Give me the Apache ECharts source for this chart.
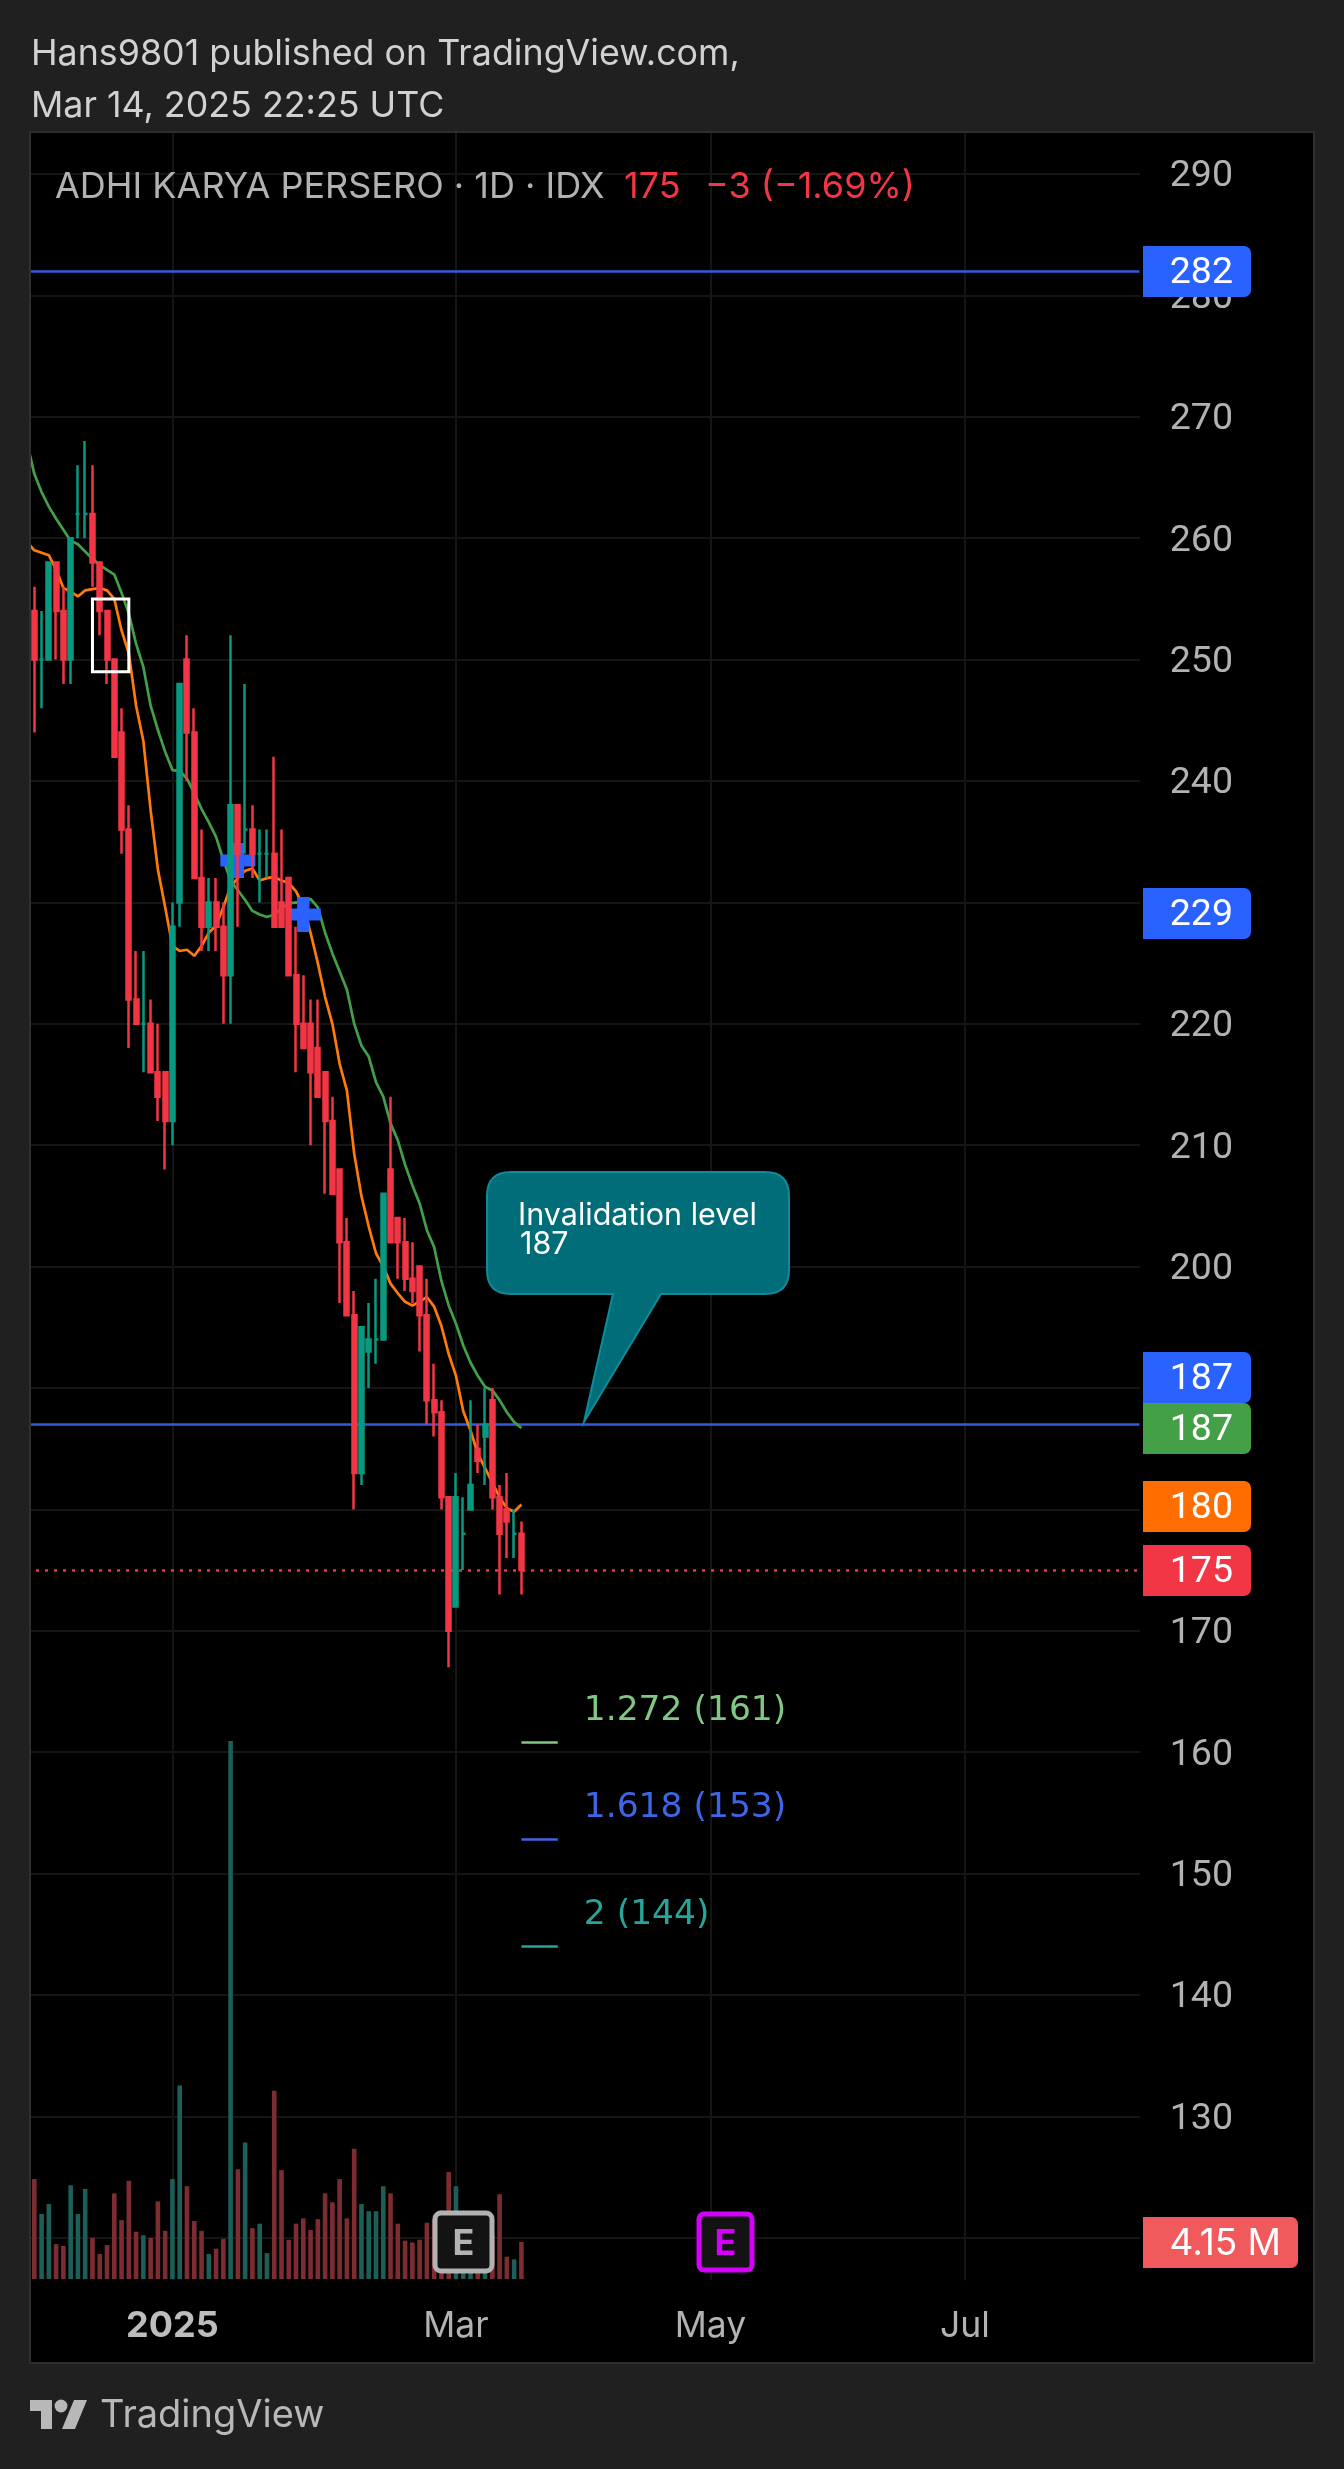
<!DOCTYPE html>
<html>
<head>
<meta charset="utf-8">
<style>html,body{margin:0;padding:0;background:#202020}#c{width:1344px;height:2469px}</style>
<script src="https://cdn.jsdelivr.net/npm/echarts@6/dist/echarts.min.js"></script>
</head>
<body>
<div id="c"></div>
<script>
const opens  = [254,250,250,258,254,250,262,262,262,258,254,250,244,236,222,220,220,216,216,212,230,250,244,232,228,230,228,224,238,236,236,234,234,234,230,232,224,220,220,218,216,212,208,202,196,183,193,194,194,208,204,202,199,200,196,189,188,181,172,178,180,185,186,189,181,180,178,178];
const closes = [250,250,258,254,250,260,262,262,258,254,250,242,236,222,220,220,216,214,212,228,248,244,232,228,230,228,224,238,234,236,234,234,234,228,228,224,220,218,216,214,212,206,202,196,183,195,194,194,206,202,202,199,198,196,189,188,181,170,181,178,182,184,187,181,178,179,178,175];
const highs  = [256,254,258,258,256,260,266,268,266,258,254,250,246,238,226,226,222,220,216,230,248,252,246,236,232,232,230,252,238,248,238,236,236,242,236,232,228,224,222,222,216,214,208,204,198,195,197,199,206,214,204,204,202,200,199,192,189,181,183,181,189,187,190,190,182,183,180,179];
const lows   = [244,246,250,250,248,248,260,260,256,252,248,242,234,218,220,216,216,212,208,210,228,240,232,226,226,226,220,220,228,234,232,230,232,228,228,224,216,218,210,214,206,206,197,196,180,182,190,192,194,202,199,198,197,193,187,186,180,167,172,175,180,183,182,180,173,176,176,173];
const volumes = [11.2,7.3,8.4,3.9,3.7,10.5,7.3,10.1,4.6,2.8,3.8,9.6,6.6,11,5.3,4.9,4.6,8.7,5.4,11.2,21.7,10.4,6.5,5.4,2.8,3.4,4.5,60.3,12.3,15.3,5.7,6.2,2.9,21.1,12.2,4.4,6.2,6.8,5.5,6.7,9.6,8.6,11.2,6.8,14.6,8.4,7.6,7.6,10.4,9.6,6.2,4.3,4.1,4.4,6.3,6.7,7.7,12,10.4,3.4,2.8,2.8,3.4,5,9.5,2.5,2.2,4.15];
const emaSlow = [267.9,265.3,263.8,262.6,261.6,260.7,259.8,259.5,258.9,258.3,257.8,257.4,257,255.5,253.8,251.3,249.4,246.2,244.2,242.4,240.9,240.8,240.2,239,237.7,236.6,235.4,233.5,231.8,231,230.2,229.3,229,228.8,229,229.5,229.9,230,229.9,230.3,229.6,227.5,225.8,224.3,222.8,220,218.2,217.3,215.2,214,211.8,210.4,208.4,206.7,205.2,203,201.6,198.8,196.8,195.3,193.5,192.1,191,190.1,189.8,189,188,187.2,186.7];
const emaFast = [259.7,259,258.8,258.6,257.4,255.9,255.6,255.2,255.7,255.8,255.9,255.7,255,252.4,250.5,246.2,243.3,237.6,232.7,229.6,226.4,226,226.1,225.6,226.4,227.5,228.1,229.6,231.3,232,232.6,232.8,231.8,232,232.1,231.8,231.6,230.9,229.7,227.5,225,222.2,220,216.7,214.5,209.3,205.8,203.3,201.1,200,198.6,197.8,197.1,196.8,197.1,197.5,196.7,195.1,192.8,191,188.1,186.5,184.6,183.4,182.2,181,180.1,179.8,180.4];

const SLOTS = 154;
const categories = Array.from({length: SLOTS}, (_, i) => 'd' + i);
const tickSlots = [20, 59, 94, 129];
const tickLabels = ['2025', 'Mar', 'May', 'Jul'];
const priceTicks = [120,130,140,150,160,170,200,210,220,240,250,260,270,280,290];
const hLevels = [282, 187];
const lastPrice = 175;
const fibLevels = [160.84, 152.85, 144];
const fibNames = ['1.272 (161)', '1.618 (153)', '2 (144)'];
const fibColors = ['#81c784', '#3d66e6', '#26a69a'];
const crossPoints = [[29, 233.45], [38, 229]];
const badgeTexts = ['282', '229', '187', '187', '180', '175'];
const badgeColors = ['#2962ff', '#2962ff', '#2962ff', '#43a047', '#ff6d00', '#f23645'];
const badgeCenters = [271.5, 913.5, 1377.5, 1428.5, 1506.5, 1570.5];

const FONT = 'Inter, Roboto, sans-serif';
const NUM_FONT = 'Roboto, Inter, sans-serif';
const UP = '#089981', DOWN = '#f23645';
const candleData = [[null,null,null,null]].concat(opens.map((o, i) => [o, closes[i], lows[i], highs[i]]));
const volData = [null].concat(volumes.map((v, i) => ({
  value: v,
  itemStyle: { color: closes[i] >= opens[i] ? '#1c5f58' : '#7d2c32' }
})));
const seg = (a, b, v, color, w) => [
  { coord: [a, v], lineStyle: { color, width: w, type: 'solid' } },
  { coord: [b, v] }
];

echarts.graphic.registerShape('callout', echarts.graphic.extendShape({
  shape: {},
  buildPath(ctx) {
    ctx.moveTo(511, 1172); ctx.lineTo(765, 1172);
    ctx.quadraticCurveTo(789, 1172, 789, 1196); ctx.lineTo(789, 1270);
    ctx.quadraticCurveTo(789, 1294, 765, 1294); ctx.lineTo(661, 1294);
    ctx.lineTo(584, 1422); ctx.lineTo(613, 1294); ctx.lineTo(511, 1294);
    ctx.quadraticCurveTo(487, 1294, 487, 1270); ctx.lineTo(487, 1196);
    ctx.quadraticCurveTo(487, 1172, 511, 1172); ctx.closePath();
  }
}));

function txt(text, x, y, size, fill, align, weight, family) {
  return { type: 'text', z: 120, silent: true, style: {
    text, x, y, fill, align: align || 'left', verticalAlign: 'middle',
    font: (weight || 'normal') + ' ' + size + 'px ' + (family || FONT) } };
}
function rect(x, y, w, h, fill, z, r, stroke, lw) {
  return { type: 'rect', z, silent: true, shape: { x, y, width: w, height: h, r: r || 0 },
    style: { fill, stroke: stroke || null, lineWidth: lw || 0 } };
}
const logoPoly = (pts) => ({ type: 'polygon', z: 120, silent: true, shape: { points: pts }, style: { fill: '#b8b8b8' } });

const BG = '#202020';
const gfx = [
  rect(0, 0, 1344, 132, BG, 100),
  rect(0, 0, 30, 2469, BG, 100),
  rect(1314, 0, 30, 2469, BG, 100),
  rect(0, 2363, 1344, 106, BG, 100),
  rect(30, 132, 1284, 2231, 'transparent', 101, 0, '#2e2e2e', 2),
  rect(1140, 132, 3, 2231, '#000', 50),
  txt('Hans9801 published on TradingView.com,', 31, 54, 35.8, '#d1d1d1'),
  txt('Mar 14, 2025 22:25 UTC', 31, 106, 35.8, '#d1d1d1'),
  txt('ADHI KARYA PERSERO \u00b7 1D \u00b7 IDX', 55, 187.5, 36, '#b2b2b2'),
  txt('175', 624, 187.5, 36, DOWN),
  txt('\u22123 (\u22121.69%)', 705, 187.5, 36, DOWN),
  { type: 'callout', z: 60, silent: true, shape: {}, style: { fill: '#006d79', stroke: '#0e8c99', lineWidth: 2 } },
  txt('Invalidation level', 518, 1215.5, 30.5, '#fff'),
  txt('187', 520, 1244.5, 30.5, '#fff'),
  rect(435, 2213, 57, 58, '#131313', 60, 6, '#b2b2b2', 5),
  txt('E', 463.5, 2244, 36, '#b2b2b2', 'center', 'bold'),
  rect(699, 2214, 53, 56, '#131313', 60, 5, '#d500f9', 5),
  txt('E', 725.5, 2244, 36, '#d500f9', 'center', 'bold'),
  { type: 'rect', z: 110, silent: true, shape: { x: 1143, y: 2217, width: 155, height: 51, r: [0, 7, 7, 0] }, style: { fill: '#f05a5c' } },
  txt('4.15 M', 1281, 2244, 37, '#fff', 'right'),
  logoPoly([[30, 2400], [52, 2400], [52, 2429], [41, 2429], [41, 2411], [30, 2411]]),
  logoPoly([[74, 2400], [87, 2400], [75, 2429], [62, 2429]]),
  { type: 'circle', z: 120, silent: true, shape: { cx: 61, cy: 2406, r: 6.4 }, style: { fill: '#b8b8b8' } },
  txt('TradingView', 100, 2416, 38, '#b8b8b8')
];
badgeTexts.forEach((t, i) => {
  gfx.push({ type: 'rect', z: 110 + (i === 3 ? 1 : 0), silent: true,
    shape: { x: 1143, y: badgeCenters[i] - 25.5, width: 108, height: 51, r: [0, 7, 7, 0] },
    style: { fill: badgeColors[i] } });
  gfx.push(txt(t, 1233, badgeCenters[i] + 2.5, 37.5, '#fff', 'right', 'normal', NUM_FONT));
});

const GRID_LINE = '#151515';
const xLabel = {
  show: true, margin: 47, verticalAlign: 'middle', color: '#b2b2b2', fontSize: 35.5, fontFamily: FONT,
  interval: (idx) => tickSlots.includes(idx),
  formatter: (v, idx) => {
    const k = tickSlots.indexOf(idx);
    if (k < 0) return '';
    return k === 0 ? '{b|' + tickLabels[k] + '}' : tickLabels[k];
  },
  rich: { b: { fontWeight: 'bold', fontSize: 36, color: '#bdbdbd', fontFamily: FONT } }
};

const option = {
  animation: false,
  backgroundColor: '#000',
  graphic: { elements: gfx },
  grid: [
    { left: 23.4, top: 174 - 121.4, width: 1119.6, height: 190 * 12.14 },
    { left: 23.4, top: 1741, width: 1119.6, height: 538 }
  ],
  xAxis: [
    { type: 'category', data: categories, gridIndex: 0, boundaryGap: true,
      axisLine: { show: false }, axisTick: { show: false }, axisLabel: { show: false }, splitLine: { show: false } },
    { type: 'category', data: categories, gridIndex: 1, boundaryGap: true,
      axisLine: { show: false }, axisTick: { show: false }, axisLabel: xLabel, splitLine: { show: false } }
  ],
  yAxis: [
    { type: 'value', gridIndex: 0, position: 'right', min: 110, max: 300, interval: 10, scale: true,
      axisLine: { show: false }, axisTick: { show: false },
      axisLabel: { show: true, showMinLabel: false, showMaxLabel: false, align: 'right', margin: 90,
        color: '#b2b2b2', fontSize: 37.5, fontFamily: NUM_FONT,
        formatter: (v) => priceTicks.includes(v) ? '{n|' + v + '}' : '',
        rich: { n: { color: '#b2b2b2', fontSize: 37.5, fontFamily: NUM_FONT, padding: [6, 0, 0, 0] } } },
      splitLine: { show: true, showMinLine: false, showMaxLine: false, lineStyle: { color: GRID_LINE, width: 2 } } },
    { type: 'value', gridIndex: 1, min: 0, max: 60.3, show: false, splitLine: { show: false } }
  ],
  series: [
    { name: 'levels', type: 'line', xAxisIndex: 0, yAxisIndex: 0, z: 1, data: [], symbol: 'none',
      markLine: { silent: true, symbol: 'none', z: 1, animation: false, label: { show: false },
        data: tickSlots.map((s) => [
          { coord: [categories[s], 293.4], lineStyle: { color: GRID_LINE, width: 2, type: 'solid' } },
          { coord: [categories[s], 116.5] }
        ]).concat(
          hLevels.map((v) => seg(categories[0], categories[SLOTS - 1], v, '#2f5ce0', 2.5)),
          [[{ coord: [categories[0], lastPrice], lineStyle: { color: DOWN, width: 2.5, type: [3, 6] } },
            { coord: [categories[SLOTS - 1], lastPrice] }]],
          fibLevels.map((v, i) => seg(categories[68], categories[73], v, fibColors[i], 2.6))
        ) } },
    { name: 'cross', type: 'scatter', xAxisIndex: 0, yAxisIndex: 0, z: 2, silent: true,
      symbol: 'path://M11,0H23V11.5H34V23.5H23V35H11V23.5H0V11.5H11Z', symbolSize: [35, 35], symbolKeepAspect: false,
      itemStyle: { color: '#2962ff', opacity: 1 },
      data: crossPoints.map((p) => [categories[p[0]], p[1]]) },
    { name: 'EMA fast', type: 'line', xAxisIndex: 0, yAxisIndex: 0, z: 2, symbol: 'none', smooth: false,
      lineStyle: { color: '#ff7a0a', width: 2.7 }, data: emaFast },
    { name: 'EMA slow', type: 'line', xAxisIndex: 0, yAxisIndex: 0, z: 2, symbol: 'none', smooth: false,
      lineStyle: { color: '#43a047', width: 2.7 }, data: emaSlow },
    { name: 'ADHI', type: 'candlestick', xAxisIndex: 0, yAxisIndex: 0, z: 3, barWidth: 4.5, silent: true,
      itemStyle: { color: UP, color0: DOWN, borderColor: UP, borderColor0: DOWN, borderColorDoji: UP, borderWidth: 2.5 },
      data: candleData,
      markArea: { silent: true, z: 4, label: { show: false },
        itemStyle: { color: 'transparent', borderColor: '#fff', borderWidth: 3 },
        data: [[{ coord: [categories[9], 255] }, { coord: [categories[14], 249] }]] } },
    { name: 'Volume', type: 'bar', xAxisIndex: 1, yAxisIndex: 1, z: 2, barWidth: 4.6, silent: true, data: volData },
    { name: 'fib labels', type: 'scatter', xAxisIndex: 0, yAxisIndex: 0, z: 5, symbolSize: 0, silent: true,
      data: fibLevels.map((v, i) => ({
        value: [categories[73], v],
        itemStyle: { opacity: 1 },
        label: { show: true, position: 'right', distance: 0, offset: [26, -31], formatter: fibNames[i], opacity: 1,
          color: fibColors[i], fontSize: 34.5, fontFamily: '"DejaVu Sans", sans-serif' }
      })) }
  ]
};
const chart = echarts.init(document.getElementById('c'), null, { renderer: 'canvas', width: 1344, height: 2469 });
chart.setOption(option);
</script>
</body>
</html>
